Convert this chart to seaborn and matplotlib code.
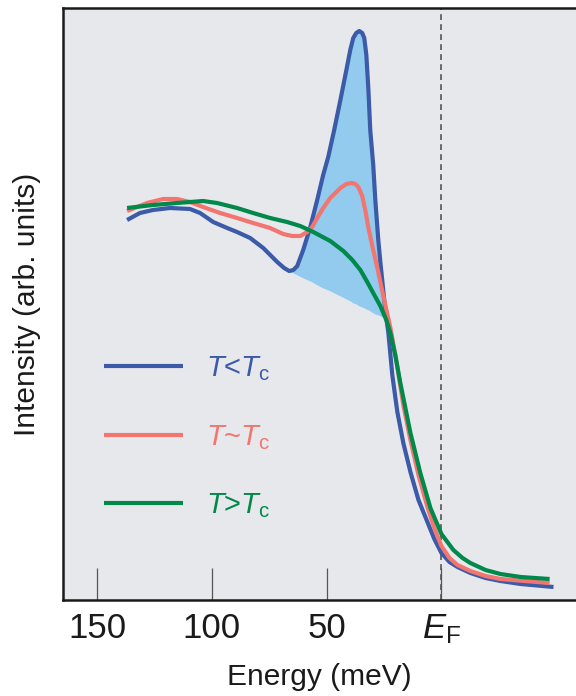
import numpy as np
import pandas as pd
import matplotlib
matplotlib.use("Agg")
import matplotlib.pyplot as plt
import seaborn as sns

# energies in meV (binding energy, E_F = 0), intensity in arb. units
energy_below = [136.9, 131.3, 125.6, 118.2, 109.5, 105.1, 99.4, 93.3, 89.0, 83.3,
                77.6, 71.5, 68.5, 66.3, 64.5, 62.8, 60.2, 57.1, 54.1, 51.5,
                49.3, 46.7, 44.0, 41.4, 39.7, 38.4, 37.1, 35.8, 34.5, 33.6,
                32.7, 31.8, 31.0, 29.7, 28.8, 27.5, 26.6, 25.7, 24.9, 24.0,
                23.1, 21.4, 19.2, 16.6, 13.5, 10.0, 6.1, 3.1, 0.0, -3.5,
                -7.0, -12.6, -19.2, -25.7, -34.5, -48.8]
int_below = [3.80, 3.87, 3.90, 3.92, 3.91, 3.87, 3.78, 3.72, 3.68, 3.62,
             3.52, 3.38, 3.32, 3.29, 3.30, 3.34, 3.50, 3.73, 4.00, 4.25,
             4.43, 4.70, 5.00, 5.30, 5.50, 5.62, 5.67, 5.69, 5.67, 5.62,
             5.45, 5.10, 4.70, 4.35, 4.00, 3.60, 3.38, 3.18, 3.00, 2.82,
             2.67, 2.25, 1.88, 1.57, 1.28, 1.00, 0.78, 0.61, 0.47, 0.38,
             0.33, 0.27, 0.22, 0.19, 0.16, 0.13]

energy_near = [136.9, 128.2, 121.2, 115.1, 109.5, 103.8, 96.4, 89.0, 82.0, 74.6,
               68.9, 65.0, 61.5, 58.4, 56.3, 54.1, 51.5, 48.4, 44.0, 41.4,
               39.2, 37.5, 36.2, 34.5, 33.1, 31.8, 30.1, 27.9, 25.3, 22.2,
               19.2, 16.6, 13.5, 10.0, 6.1, 3.1, 0.0, -3.5, -7.0, -12.6,
               -19.2, -25.7, -47.1]
int_near = [3.89, 3.97, 4.01, 4.01, 3.98, 3.93, 3.87, 3.82, 3.77, 3.72,
            3.66, 3.64, 3.64, 3.68, 3.73, 3.82, 3.92, 4.02, 4.12, 4.16,
            4.17, 4.16, 4.13, 4.04, 3.89, 3.72, 3.54, 3.32, 3.04, 2.72,
            2.33, 1.95, 1.60, 1.25, 0.93, 0.72, 0.54, 0.42, 0.35, 0.29,
            0.24, 0.21, 0.17]

energy_above = [136.9, 125.6, 115.1, 103.8, 97.7, 89.0, 82.0, 74.6, 67.2, 61.5,
                55.8, 48.4, 42.7, 38.8, 35.3, 32.3, 29.7, 26.6, 24.0, 22.2,
                20.1, 17.9, 15.7, 13.5, 9.2, 4.8, 0.0, -5.2, -9.2, -12.6,
                -19.2, -25.7, -34.5, -47.1]
int_above = [3.92, 3.95, 3.97, 3.99, 3.97, 3.92, 3.87, 3.82, 3.78, 3.74,
             3.68, 3.59, 3.49, 3.40, 3.30, 3.18, 3.07, 2.94, 2.80, 2.67,
             2.45, 2.17, 1.92, 1.67, 1.27, 0.92, 0.66, 0.50, 0.42, 0.37,
             0.30, 0.26, 0.23, 0.21]

# lower edge of the shaded spectral-weight region under the T<Tc peak
gap_base = [3.29, 3.27, 3.25, 3.22, 3.19, 3.15, 3.12, 3.10, 3.07, 3.04,
            3.01, 2.99, 2.97, 2.96, 2.94, 2.93, 2.92, 2.91, 2.90, 2.89,
            2.87, 2.86, 2.85, 2.84, 2.83, 2.82, 2.81]
gap_start = 13  # index in energy_below where the shading starts

labels = [r"$T$<$T_{\mathrm{c}}$", r"$T$~$T_{\mathrm{c}}$", r"$T$>$T_{\mathrm{c}}$"]
colors = ["#3b5ba8", "#f2756f", "#00894a"]
xticks = [150, 100, 50, 0]
xticklabels = ["150", "100", "50", r"$E_{\mathrm{F}}$"]

sns.set_theme(style="white")
plt.rcParams["font.family"] = ["Liberation Sans", "DejaVu Sans"]
plt.rcParams["mathtext.fontset"] = "custom"
plt.rcParams["mathtext.rm"] = "Liberation Sans"
plt.rcParams["mathtext.it"] = "Liberation Sans:italic"

fig = plt.figure(figsize=(5.76, 6.96), dpi=100)
ax = fig.add_axes([63 / 576, 96 / 696, 513 / 576, 592 / 696])
ax.set_facecolor("#e7e8ec")

# shaded weight transfer
seg = slice(gap_start, gap_start + len(gap_base))
ax.fill_between(energy_below[seg], int_below[seg], gap_base,
                color="#92cbee", linewidth=0, zorder=1)

curves = [(energy_below, int_below), (energy_near, int_near), (energy_above, int_above)]
for (e, i), lab, c in zip(curves, labels, colors):
    df = pd.DataFrame({"energy": e, "intensity": i})
    sns.lineplot(data=df, x="energy", y="intensity", ax=ax, color=c, lw=3.0,
                 label=lab, estimator=None, sort=False, zorder=3,
                 solid_capstyle="butt", solid_joinstyle="round")

ax.axvline(0, color="#555555", lw=1.2, ls=(0, (3.5, 2.5)), zorder=2)

ax.set_xlim(164.8, -58.6)
ax.set_ylim(0, 5.92)
ax.set_yticks([])
ax.set_xticks(xticks)
ax.set_xticklabels(xticklabels)
ax.tick_params(axis="x", bottom=True, direction="in", length=23, width=0.9,
               color="#555555", labelsize=25, pad=9, labelcolor="#1a1a1a")

ax.set_xlabel("Energy (meV)", fontsize=21.5, color="#1a1a1a", labelpad=12)
ax.set_ylabel("Intensity (arb. units)", fontsize=21.5, color="#1a1a1a", labelpad=16)

for side in ["left", "bottom", "top"]:
    ax.spines[side].set_color("#1a1a1a")
    ax.spines[side].set_linewidth(1.8)
ax.spines["right"].set_visible(False)

leg = ax.legend(loc="upper left", bbox_to_anchor=(0.08, 0.415), frameon=False,
                fontsize=21, handlelength=2.7, handletextpad=0.8,
                labelspacing=1.36, borderpad=0, borderaxespad=0)
for txt, c in zip(leg.get_texts(), colors):
    txt.set_color(c)

fig.savefig("out.png", dpi=100)
